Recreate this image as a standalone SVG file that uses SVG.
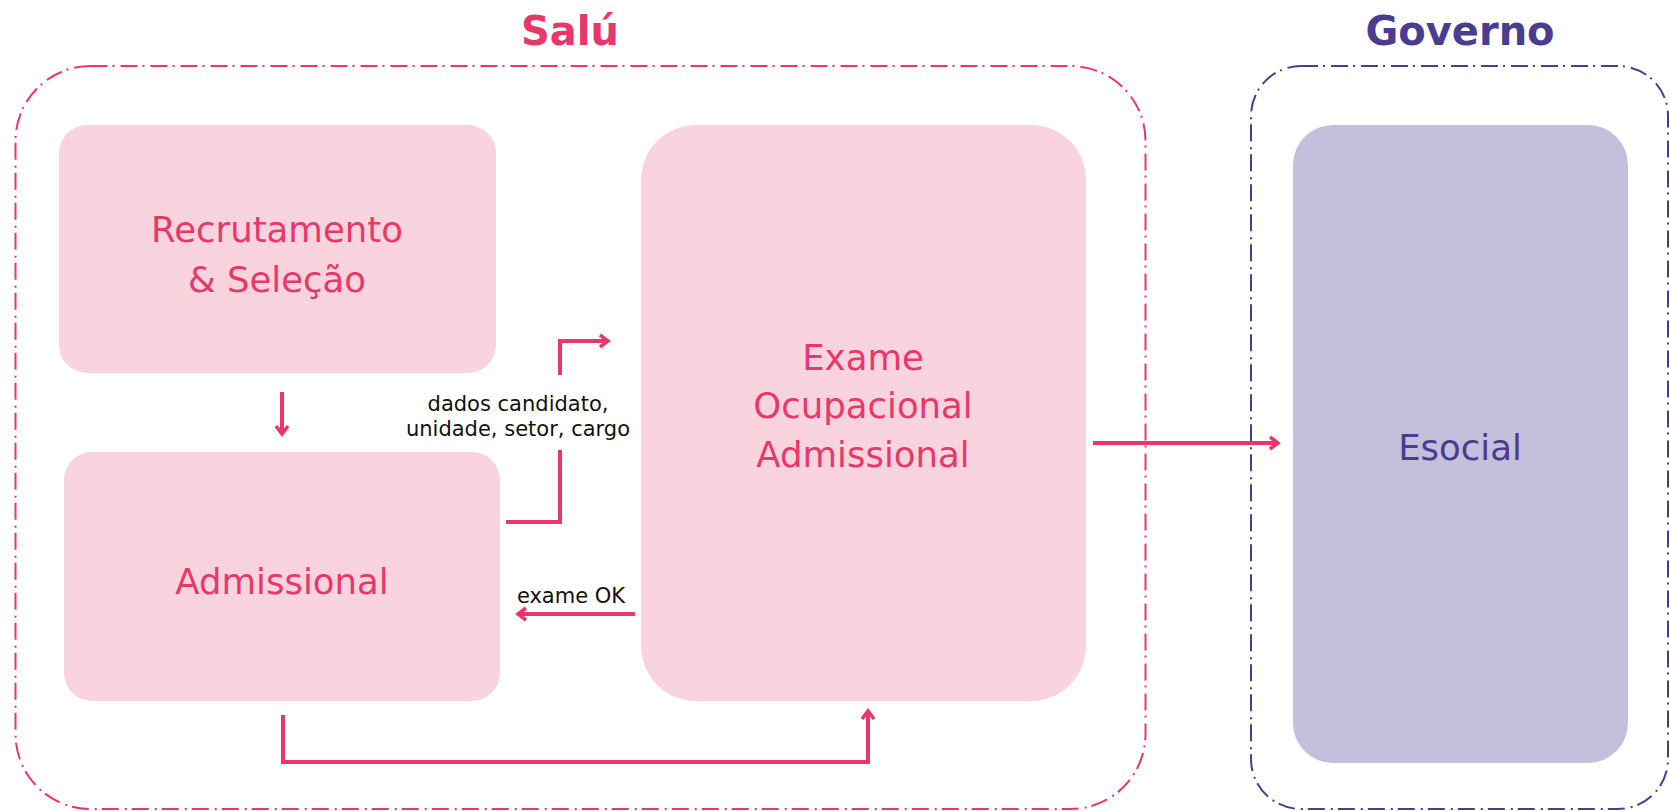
<svg xmlns="http://www.w3.org/2000/svg" width="1670" height="811" viewBox="0 0 1670 811">
<defs>
<style>
.cont{fill:none;stroke-width:2;stroke-dasharray:17 5 2 6}
.pink-c{stroke:#E8386A}
.purple-c{stroke:#4C3C90}
.pnode{fill:#F9D4DF}
.vnode{fill:#C4BFDB}
.lbl{font-family:"DejaVu Sans",sans-serif;font-size:35.5px;text-anchor:middle}
.pl{fill:#E8386A}
.vl{fill:#4C3C90}
.title{font-family:"DejaVu Sans",sans-serif;font-weight:bold;font-size:40px;text-anchor:middle}
.small{font-family:"DejaVu Sans",sans-serif;font-size:21px;fill:#111;text-anchor:middle}
.conn{fill:none;stroke:#E8386A;stroke-width:4}
</style>
<marker id="arr" markerUnits="userSpaceOnUse" markerWidth="14" markerHeight="16" refX="10" refY="7" orient="auto" viewBox="0 0 14 16" overflow="visible">
<path d="M2,1 L10,7 L2,13" fill="none" stroke="#E8386A" stroke-width="3.5" stroke-linejoin="miter"/>
</marker>
</defs>
<g id="salu-group">
<rect class="cont pink-c" x="15.5" y="66" width="1130" height="743" rx="75"/>
<text class="title pl" x="570" y="45">Salú</text>
</g>
<g id="governo-group">
<rect class="cont purple-c" x="1251" y="66" width="417" height="743" rx="50"/>
<text class="title vl" x="1460" y="45">Governo</text>
</g>
<g id="recrutamento">
<rect class="pnode" x="59" y="125" width="437" height="248" rx="28"/>
<text class="lbl pl" x="277" y="242">Recrutamento</text>
<text class="lbl pl" x="277" y="292">&amp; Seleção</text>
</g>
<g id="admissional">
<rect class="pnode" x="64" y="452" width="436" height="249" rx="28"/>
<text class="lbl pl" x="282" y="594">Admissional</text>
</g>
<g id="exame">
<rect class="pnode" x="641" y="125" width="445" height="576" rx="55"/>
<text class="lbl pl" x="863" y="370">Exame</text>
<text class="lbl pl" x="863" y="418">Ocupacional</text>
<text class="lbl pl" x="863" y="467">Admissional</text>
</g>
<g id="esocial">
<rect class="vnode" x="1293" y="125" width="335" height="638" rx="40"/>
<text class="lbl vl" x="1460" y="460">Esocial</text>
</g>
<g id="connectors">
<path class="conn" d="M282,392 V434" marker-end="url(#arr)"/>
<path class="conn" d="M506,522 H560 V450"/>
<path class="conn" d="M560,375 V341 H608" marker-end="url(#arr)"/>
<text class="small" x="518" y="411">dados candidato,</text>
<text class="small" x="518" y="436">unidade, setor, cargo</text>
<path class="conn" d="M635,614 H518" marker-end="url(#arr)"/>
<text class="small" x="571" y="603">exame OK</text>
<path class="conn" d="M283,715 V762 H868 V711" marker-end="url(#arr)"/>
<path class="conn" d="M1093,443 H1278" marker-end="url(#arr)"/>
</g>
</svg>
